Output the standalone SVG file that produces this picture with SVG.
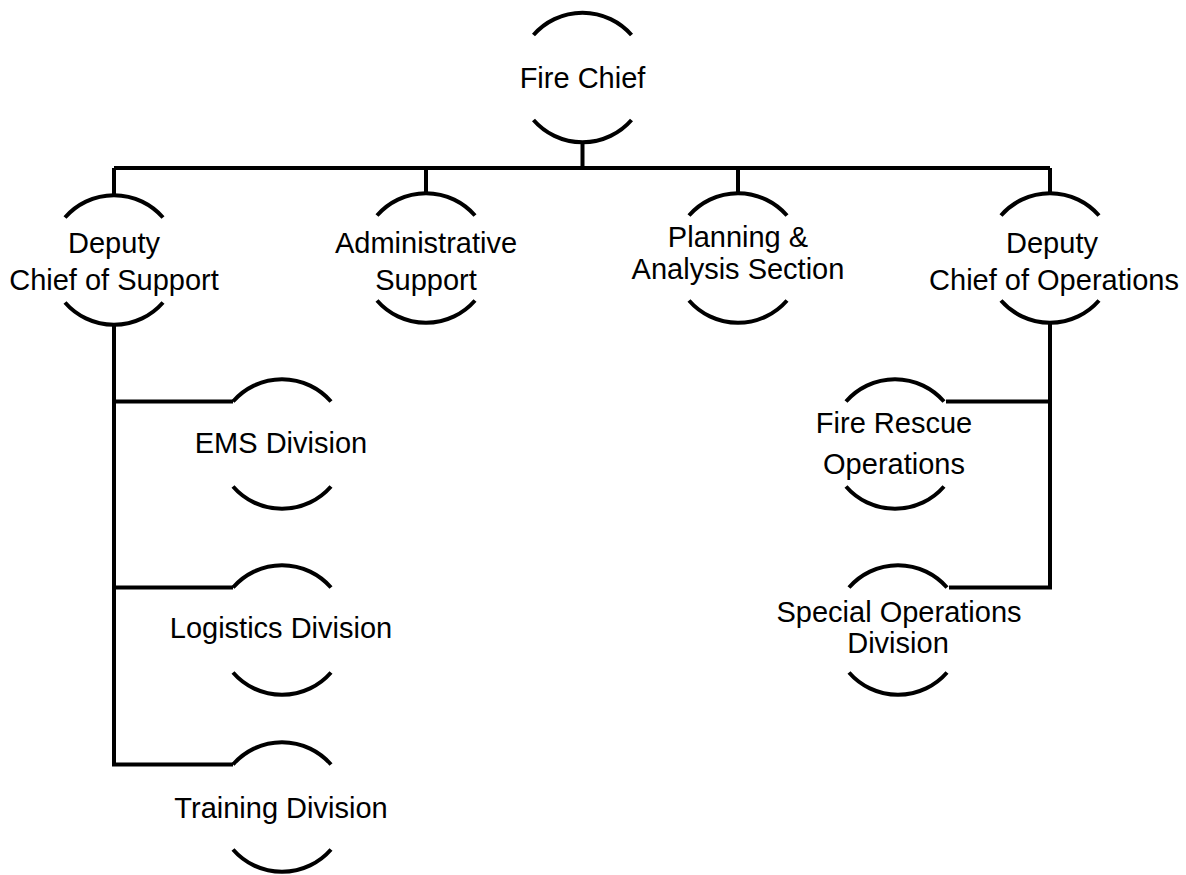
<svg xmlns="http://www.w3.org/2000/svg" xmlns:xlink="http://www.w3.org/1999/xlink" width="1186" height="875" viewBox="0 0 1186 875">
<style>
.arc{fill:none;stroke:#000;stroke-width:4}
.conn{fill:none;stroke:#000;stroke-width:4;stroke-linejoin:miter}
text{font-family:"Liberation Sans",Arial,sans-serif;font-size:29px;fill:#000;text-anchor:middle}
</style>
<defs>
<path id="arcs" class="arc" d="M-49 -42.5 A65 65 0 0 1 49 -42.5 M-49 42.5 A65 65 0 0 0 49 42.5"/>
</defs>
<rect width="1186" height="875" fill="#fff"/>
<g id="connectors" class="conn">
<path d="M582.5 142.5 V168"/>
<path d="M114 168 H1050"/>
<path d="M114 168 V195"/>
<path d="M426 168 V193"/>
<path d="M738 168 V193"/>
<path d="M1050 168 V193"/>
<path d="M114 325 V764.5 H233"/>
<path d="M114 401.5 H233"/>
<path d="M114 587.5 H233"/>
<path d="M1050 323 V587.5 H949"/>
<path d="M1050 401.5 H946"/>
</g>
<g id="fire-chief"><use xlink:href="#arcs" x="582.5" y="77.5"/><text x="582.5" y="87.5">Fire Chief</text></g>
<g id="deputy-support"><use xlink:href="#arcs" x="114" y="260"/><text x="114" y="253">Deputy</text><text x="114" y="290">Chief of Support</text></g>
<g id="admin-support"><use xlink:href="#arcs" x="426" y="258"/><text x="426" y="253">Administrative</text><text x="426" y="290">Support</text></g>
<g id="planning"><use xlink:href="#arcs" x="738" y="258"/><text x="738" y="247">Planning &amp;</text><text x="738" y="279">Analysis Section</text></g>
<g id="deputy-operations"><use xlink:href="#arcs" x="1050" y="258"/><text x="1052" y="253">Deputy</text><text x="1054" y="290">Chief of Operations</text></g>
<g id="ems"><use xlink:href="#arcs" x="282" y="444"/><text x="281" y="453">EMS Division</text></g>
<g id="logistics"><use xlink:href="#arcs" x="282" y="630"/><text x="281" y="638">Logistics Division</text></g>
<g id="training"><use xlink:href="#arcs" x="282" y="807"/><text x="281" y="818">Training Division</text></g>
<g id="fire-rescue"><use xlink:href="#arcs" x="895" y="444"/><text x="894" y="433">Fire Rescue</text><text x="894" y="474">Operations</text></g>
<g id="special-ops"><use xlink:href="#arcs" x="898" y="630"/><text x="899" y="622">Special Operations</text><text x="898" y="653">Division</text></g>
</svg>
